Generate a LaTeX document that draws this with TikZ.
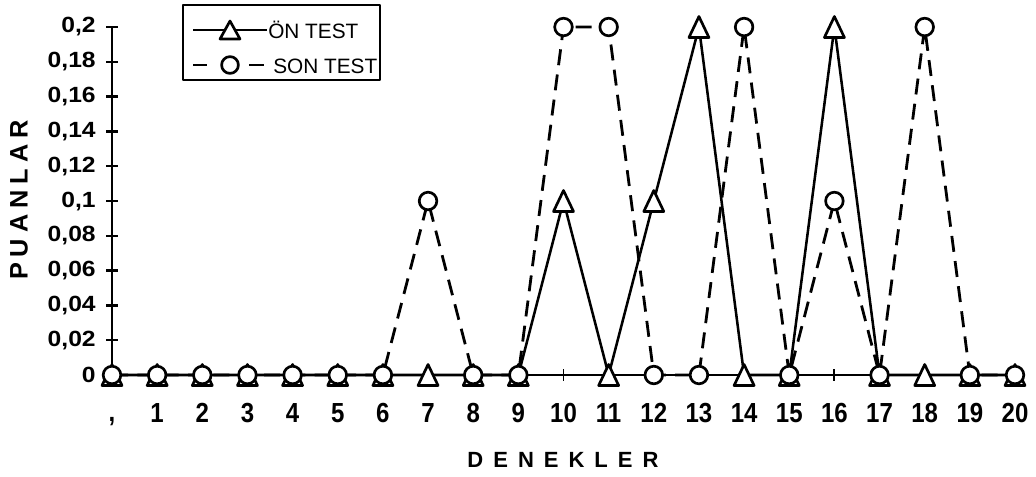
\documentclass[tikz,border=0pt]{standalone}
\usepackage{fontspec}
\setmainfont{Liberation Sans}
\tikzset{
  axisline/.style={line width=1.8pt},
  ontest/.style={line width=1.9pt},
  sontest/.style={line width=2.1pt, dash pattern=on 12pt off 7pt},
  markline/.style={line width=2pt, fill=white, solid},
  ticklab/.style={font=\fontsize{18}{18}\selectfont\bfseries, inner sep=0pt, yscale=1.15},
  vallab/.style={font=\fontsize{16.5}{17}\selectfont\bfseries, inner sep=0pt, xscale=1.12, anchor=east},
  axtitle/.style={font=\fontsize{16.5}{17}\selectfont\bfseries, inner sep=0pt},
  legtext/.style={font=\fontsize{15.6}{16}\selectfont, inner sep=0pt, anchor=west}
}
\begin{document}
\begin{tikzpicture}[x=0.75pt, y=-0.75pt, line join=round, declare function={xp(\i)=112+45.15*\i; yp(\v)=375-1740*\v;}]
\useasboundingbox (0,0) rectangle (1036,476);
% axes
\path (112,375) coordinate (O) (112,27) coordinate (Y) (1015,375) coordinate (X);
\draw[axisline] (Y)--(O)--(X);
\foreach \k/\t in {0/0, 1/{0,02}, 2/{0,04}, 3/{0,06}, 4/{0,08}, 5/{0,1}, 6/{0,12}, 7/{0,14}, 8/{0,16}, 9/{0,18}, 10/{0,2}}{
\draw[axisline] (106,{yp(\k/50)})--(118,{yp(\k/50)});
\node[vallab] (y\k) at (96,{yp(\k/50)}) {\t};
}
\foreach \i in {0,...,20}{
\draw[line width=1.4pt] ({xp(\i)},369)--({xp(\i)},381);
}
\node[ticklab, anchor=base] (x0) at (112,421) {,};
\foreach \i in {1,...,20}{
\node[ticklab] (x\i) at ({xp(\i)},413) {\i};
}
\node[axtitle] (dn) at (563,460) {D\kern7.5pt E\kern7.5pt N\kern7.5pt E\kern7.5pt K\kern7.5pt L\kern7.5pt E\kern7.5pt R};
\node[axtitle, rotate=90, font=\fontsize{19}{19}\selectfont\bfseries] (pu) at (19,200) {P\kern4.5pt U\kern4.5pt A\kern4.5pt N\kern4.5pt L\kern4.5pt A\kern4.5pt R};
% data
\foreach \v [count=\i from 0] in {0,0,0,0,0,0,0,0,0,0,0.1,0,0.1,0.2,0,0,0.2,0,0,0,0}{
\coordinate (a\i) at ({xp(\i)},{yp(\v)});
}
\foreach \v [count=\i from 0] in {0,0,0,0,0,0,0,0.1,0,0,0.2,0.2,0,0,0.2,0,0.1,0,0.2,0,0}{
\coordinate (b\i) at ({xp(\i)},{yp(\v)});
}
\draw[ontest] (a0) \foreach \i in {1,...,20}{--(a\i)};
\draw[sontest] (b0) \foreach \i in {1,...,20}{--(b\i)};
\foreach \i in {0,...,20}{
\draw[markline] (a\i) ++(-10,10.5)--++(10,-21)--++(10,21)--cycle;
}
\foreach \i in {0,...,20}{
\draw[markline] (b\i) circle[radius=6.6pt];
}
% legend
\draw[line width=1.3pt] (183,5) rectangle (380,80);
\path (193,30) coordinate (l1) (230,30) coordinate (l1m) (267,30) coordinate (l1e)
(193,65) coordinate (l2) (207,65) coordinate (l2a) (230,65) coordinate (l2m) (249,65) coordinate (l2b) (264,65) coordinate (l2e);
\draw[line width=1.4pt] (l1)--(l1e);
\draw[markline] (l1m) ++(-10,9)--++(10,-18)--++(10,18)--cycle;
\draw[line width=2pt] (l2)--(l2a) (l2b)--(l2e);
\draw[markline] (l2m) circle[radius=6.3pt];
\node[legtext] (on) at (268,30) {ÖN TEST};
\node[legtext] (son) at (273,66) {SON TEST};
\end{tikzpicture}
\end{document}
